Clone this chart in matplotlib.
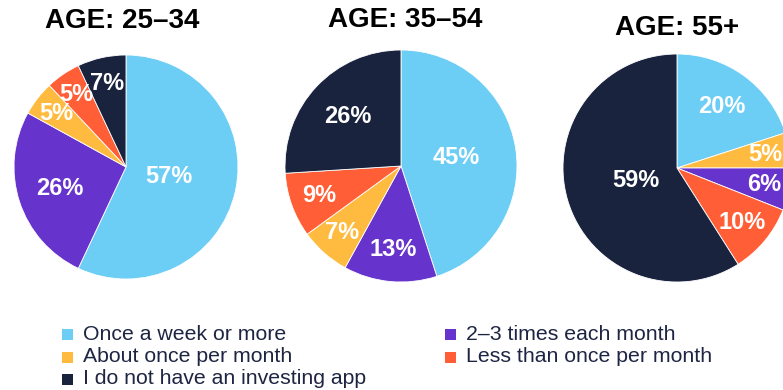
import numpy as np
import matplotlib.pyplot as plt
from matplotlib.patches import Rectangle

plt.rcParams['font.family'] = ['Liberation Sans', 'DejaVu Sans']

# data
categories = ['Once a week or more', '2–3 times each month', 'About once per month',
              'Less than once per month', 'I do not have an investing app']
colors = ['#6ccdf5', '#6633cc', '#ffbb3f', '#ff5e36', '#1a233e']

titles = ['AGE: 25–34', 'AGE: 35–54', 'AGE: 55+']
age_25_34 = [57, 26, 5, 5, 7]
age_35_54 = [45, 13, 7, 9, 26]
age_55_up = [20, 6, 5, 10, 59]
# clockwise slice order (index into categories) for each pie
order_25_34 = [0, 1, 2, 3, 4]
order_35_54 = [0, 1, 2, 3, 4]
order_55_up = [0, 2, 1, 3, 4]

# layout (pixels, y from top)
W, H = 783, 390
pies = [
    (age_25_34, order_25_34, (126, 167), 112, (122, 21)),
    (age_35_54, order_35_54, (401, 166), 116, (405, 20)),
    (age_55_up, order_55_up, (677, 168), 114, (677, 28)),
]

fig = plt.figure(figsize=(W / 100, H / 100), dpi=100)
ax = fig.add_axes([0, 0, 1, 1])

for (vals, order, (cx, cy), R, (tx, ty)), title in zip(pies, titles):
    v = [vals[i] for i in order]
    c = [colors[i] for i in order]
    wedges, _ = ax.pie(v, colors=c, startangle=90, counterclock=False,
                       radius=R, center=(cx, H - cy),
                       wedgeprops=dict(edgecolor='white', linewidth=0.6))
    for w, pct in zip(wedges, v):
        mid = np.deg2rad((w.theta1 + w.theta2) / 2)
        r = R * (0.82 - 0.0075 * pct)
        ax.text(cx + r * np.cos(mid), H - cy + r * np.sin(mid), f'{pct}%',
                color='white', fontsize=17, fontweight='bold',
                ha='center', va='center')
    ax.text(tx, H - ty, title, fontsize=20, fontweight='bold', color='black',
            ha='center', va='center')

# legend, drawn by hand
legend_order = [0, 2, 4, 1, 3]
col_x = [62, 445]
row_y = [334, 357, 379]
for k, idx in enumerate(legend_order):
    col, row = divmod(k, 3)
    x, y = col_x[col], row_y[row]
    ax.add_patch(Rectangle((x, H - y - 5.5), 11, 11, color=colors[idx], lw=0))
    ax.text(x + 21, H - y, categories[idx], fontsize=15.3, color='#1e2542',
            ha='left', va='center')

ax.set_xlim(0, W)
ax.set_ylim(0, H)
ax.set_aspect('auto')
ax.axis('off')

fig.savefig('out.png', dpi=100)
